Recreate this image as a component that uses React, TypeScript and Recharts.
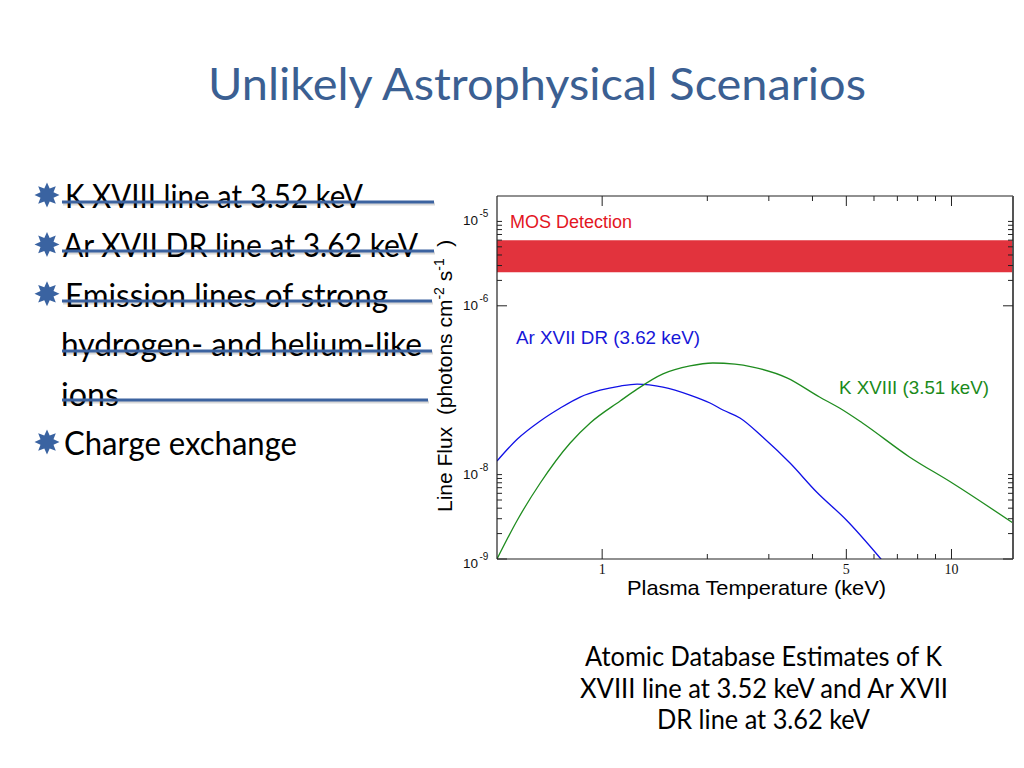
import React from "react"
import { LineChart, Line, XAxis, YAxis, ReferenceArea } from "recharts"

// Ar XVII DR (3.62 keV) line flux vs plasma temperature
const AR_T = [0.5, 0.572, 0.665, 0.759, 0.865, 0.987, 1.126, 1.259, 1.493, 1.784, 2.036, 2.217, 2.48, 2.88, 3.45, 4.11, 5.0, 6.22, 6.39]
const AR_FLUX = [1.45e-8, 2.64e-8, 4.32e-8, 6.15e-8, 8.3e-8, 1.0e-7, 1.12e-7, 1.18e-7, 1.09e-7, 8.77e-8, 7.05e-8, 5.82e-8, 4.69e-8, 2.79e-8, 1.37e-8, 6.22e-9, 2.9e-9, 1.05e-9, 9.2e-10]

// K XVIII (3.51 keV)
const K_T = [0.5, 0.572, 0.665, 0.81, 0.924, 1.126, 1.259, 1.493, 1.784, 2.074, 2.4, 2.7, 3.38, 4.19, 4.78, 5.56, 7.58, 10.05, 15]
const K_FLUX = [1.0e-9, 2.9e-9, 7.95e-9, 2.37e-8, 4.09e-8, 7.45e-8, 1.03e-7, 1.56e-7, 1.94e-7, 2.1e-7, 2.04e-7, 1.88e-7, 1.4e-7, 8.3e-8, 6.15e-8, 4.09e-8, 1.62e-8, 7.95e-9, 2.67e-9]

// MOS detection band
const MOS_LOW = 2.5e-6
const MOS_HIGH = 6e-6

const X_DOMAIN = [0.5, 15]
const X_TICKS = [1, 2, 3, 4, 5, 6, 7, 8, 9, 10]
const X_MAJOR = [1, 5, 10]
const X_LABELS = ["1", "5", "10"]

const Y_DOMAIN = [1e-9, 2e-5]
const Y_TICKS = [1e-9, 2e-9, 3e-9, 4e-9, 5e-9, 6e-9, 7e-9, 8e-9, 9e-9, 1e-8, 1e-6, 2e-6, 3e-6, 4e-6, 5e-6, 6e-6, 7e-6, 8e-6, 9e-6, 1e-5]
const Y_MAJOR = [1e-9, 1e-6]
const Y_LABELED = [1e-9, 1e-8, 1e-6, 1e-5]
const Y_EXPONENTS = ["-9", "-8", "-6", "-5"]

const BULLETS = [
  "K XVIII line at 3.52 keV",
  "Ar XVII DR line at 3.62 keV",
  "Emission lines of strong",
  "hydrogen- and helium-like",
  "ions",
  "Charge exchange",
]
const BULLET_MARK = [true, true, true, false, false, true]
const STRUCK = [true, true, true, true, true, false]

const CAPTION = [
  "Atomic Database Estimates of K",
  "XVIII line at 3.52 keV and Ar XVII",
  "DR line at 3.62 keV",
]

const arData = AR_T.map((t, i) => ({ t, f: AR_FLUX[i] }))
const kData = K_T.map((t, i) => ({ t, f: K_FLUX[i] }))

const same = (a: number, b: number) => Math.abs(a - b) <= Math.abs(b) * 1e-6
const idxOf = (list: number[], v: number) => list.findIndex((d) => same(v, d))

const SANS = "'Liberation Sans', Arial, sans-serif"
const BODY = "Lato, 'Open Sans', sans-serif"
const FRAME = "#222"

const XTick = (props: any) => {
  const { x, y, payload, side } = props
  const v = payload.value
  const li = idxOf(X_MAJOR, v)
  const len = li >= 0 ? 10 : 5
  if (side === "top") {
    return <line x1={x} y1={y} x2={x} y2={y + len} stroke={FRAME} strokeWidth={1} />
  }
  return (
    <g>
      <line x1={x} y1={y} x2={x} y2={y - len} stroke={FRAME} strokeWidth={1} />
      {li >= 0 && (
        <text x={x} y={y + 15} textAnchor="middle" fontFamily="'Liberation Serif', serif" fontSize={14} fill="#111">
          {X_LABELS[li]}
        </text>
      )}
    </g>
  )
}

const YTick = (props: any) => {
  const { x, y, payload, side } = props
  const v = payload.value
  const len = idxOf(Y_MAJOR, v) >= 0 ? 10 : 5
  if (side === "right") {
    return <line x1={x} y1={y} x2={x - len} y2={y} stroke={FRAME} strokeWidth={1} />
  }
  const li = idxOf(Y_LABELED, v)
  const base = same(v, Y_DOMAIN[0]) ? y + 9 : y + 4
  return (
    <g>
      <line x1={x} y1={y} x2={x + len} y2={y} stroke={FRAME} strokeWidth={1} />
      {li >= 0 && (
        <text x={x - 34} y={base} fontFamily={SANS} fontSize={13.5} fill="#111">
          10
          <tspan dx={1.5} dy={-8} fontSize={10}>
            {Y_EXPONENTS[li]}
          </tspan>
        </text>
      )}
    </g>
  )
}

const starPoints = (cx: number, cy: number, ro: number, ri: number, n: number) => {
  const pts: string[] = []
  for (let k = 0; k < n * 2; k++) {
    const r = k % 2 === 0 ? ro : ri
    const a = (Math.PI * k) / n - Math.PI / 2
    pts.push(`${(cx + r * Math.cos(a)).toFixed(1)},${(cy + r * Math.sin(a)).toFixed(1)}`)
  }
  return pts.join(" ")
}

const STRIKES = [
  { y: 202, x2: 434 },
  { y: 251, x2: 434 },
  { y: 301, x2: 432 },
  { y: 351, x2: 432 },
  { y: 400, x2: 428 },
]

export default function App() {
  return (
    <div
      style={{
        position: "absolute",
        left: 0,
        top: 0,
        width: 1024,
        height: 768,
        background: "#fff",
        overflow: "hidden",
      }}
    >
      <LineChart
        width={586}
        height={413}
        margin={{ top: 0, right: 0, bottom: 0, left: 0 }}
        style={{ position: "absolute", left: 437, top: 186 }}
      >
        <XAxis
          xAxisId="b"
          type="number"
          dataKey="t"
          scale="log"
          domain={X_DOMAIN}
          allowDataOverflow
          ticks={X_TICKS}
          interval={0}
          tick={(p: any) => <XTick {...p} side="bottom" />}
          tickLine={false}
          tickSize={0}
          tickMargin={0}
          height={40}
          axisLine={{ stroke: FRAME, strokeWidth: 1.2 }}
        />
        <XAxis
          xAxisId="t"
          orientation="top"
          type="number"
          dataKey="t"
          scale="log"
          domain={X_DOMAIN}
          allowDataOverflow
          ticks={X_TICKS}
          interval={0}
          tick={(p: any) => <XTick {...p} side="top" />}
          tickLine={false}
          tickSize={0}
          tickMargin={0}
          height={10}
          axisLine={{ stroke: FRAME, strokeWidth: 1.2 }}
        />
        <YAxis
          yAxisId="l"
          type="number"
          scale="log"
          domain={Y_DOMAIN}
          allowDataOverflow
          ticks={Y_TICKS}
          interval={0}
          tick={(p: any) => <YTick {...p} side="left" />}
          tickLine={false}
          tickSize={0}
          tickMargin={0}
          width={60}
          axisLine={{ stroke: FRAME, strokeWidth: 1.2 }}
        />
        <YAxis
          yAxisId="r"
          orientation="right"
          type="number"
          scale="log"
          domain={Y_DOMAIN}
          allowDataOverflow
          ticks={Y_TICKS}
          interval={0}
          tick={(p: any) => <YTick {...p} side="right" />}
          tickLine={false}
          tickSize={0}
          tickMargin={0}
          width={10}
          axisLine={{ stroke: "#555", strokeWidth: 2 }}
        />
        <ReferenceArea
          xAxisId="b"
          yAxisId="l"
          x1={X_DOMAIN[0]}
          x2={X_DOMAIN[1]}
          y1={MOS_LOW}
          y2={MOS_HIGH}
          fill="#e2333d"
          fillOpacity={1}
          stroke="none"
          ifOverflow="hidden"
        />
        <Line
          xAxisId="b"
          yAxisId="l"
          data={arData}
          dataKey="f"
          type="monotone"
          stroke="#1010e6"
          strokeWidth={1.3}
          dot={false}
          isAnimationActive={false}
        />
        <Line
          xAxisId="b"
          yAxisId="l"
          data={kData}
          dataKey="f"
          type="monotone"
          stroke="#1f8c1f"
          strokeWidth={1.3}
          dot={false}
          isAnimationActive={false}
        />
      </LineChart>

      <svg
        width={1024}
        height={768}
        style={{ position: "absolute", left: 0, top: 0, pointerEvents: "none" }}
      >
        <text x={208} y={100} fontFamily={BODY} fontSize={45} fill="#3b5f92" textLength={658} lengthAdjust="spacingAndGlyphs">
          Unlikely Astrophysical Scenarios
        </text>

        {BULLETS.map((b, i) => {
          const base = 208 + i * 49.4
          const lens = [298, 355, 323, 361, 58, 233]
          const xs = [65, 63, 65, 61, 61, 64]
          return (
            <g key={b}>
              {BULLET_MARK[i] && (
                <polygon points={starPoints(47, base - 13, 12.5, 7, 8)} fill="#3a63a1" />
              )}
              <text x={xs[i]} y={base} fontFamily={BODY} fontSize={33} fill="#000" textLength={lens[i]} lengthAdjust="spacingAndGlyphs">
                {b}
              </text>
            </g>
          )
        })}

        {STRIKES.map((s, i) =>
          STRUCK[i] ? (
            <g key={i}>
              <line x1={63} y1={s.y + 2} x2={s.x2 + 1} y2={s.y + 2} stroke="rgba(0,0,0,0.15)" strokeWidth={3} />
              <line x1={62} y1={s.y} x2={s.x2} y2={s.y} stroke="#3c63a0" strokeWidth={3} />
            </g>
          ) : null
        )}

        {CAPTION.map((c, i) => {
          const xs = [585, 580, 657]
          const lens = [357, 368, 213]
          return (
            <text key={c} x={xs[i]} y={666 + i * 31.5} fontFamily={BODY} fontSize={26} fill="#000" textLength={lens[i]} lengthAdjust="spacingAndGlyphs">
              {c}
            </text>
          )
        })}

        <text x={510} y={228} fontFamily={SANS} fontSize={18} fill="#e3161f" textLength={122} lengthAdjust="spacingAndGlyphs">
          MOS Detection
        </text>
        <text x={516} y={344} fontFamily={SANS} fontSize={18.5} fill="#1717d8" textLength={184} lengthAdjust="spacingAndGlyphs">
          Ar XVII DR (3.62 keV)
        </text>
        <text x={839} y={394} fontFamily={SANS} fontSize={18.5} fill="#1b8a1b" textLength={150} lengthAdjust="spacingAndGlyphs">
          K XVIII (3.51 keV)
        </text>
        <text x={627} y={595} fontFamily={SANS} fontSize={21} fill="#000" textLength={259} lengthAdjust="spacingAndGlyphs">
          Plasma Temperature (keV)
        </text>
        <text transform="translate(452,512) rotate(-90)" fontFamily={SANS} fontSize={21} fill="#000">
          {"Line Flux\u00a0\u00a0(photons cm"}
          <tspan dy={-8} fontSize={14}>-2</tspan>
          <tspan dy={8}>{"\u00a0s"}</tspan>
          <tspan dy={-8} fontSize={14}>-1</tspan>
          <tspan dy={8}>{"\u00a0\u00a0)"}</tspan>
        </text>
      </svg>
    </div>
  )
}
